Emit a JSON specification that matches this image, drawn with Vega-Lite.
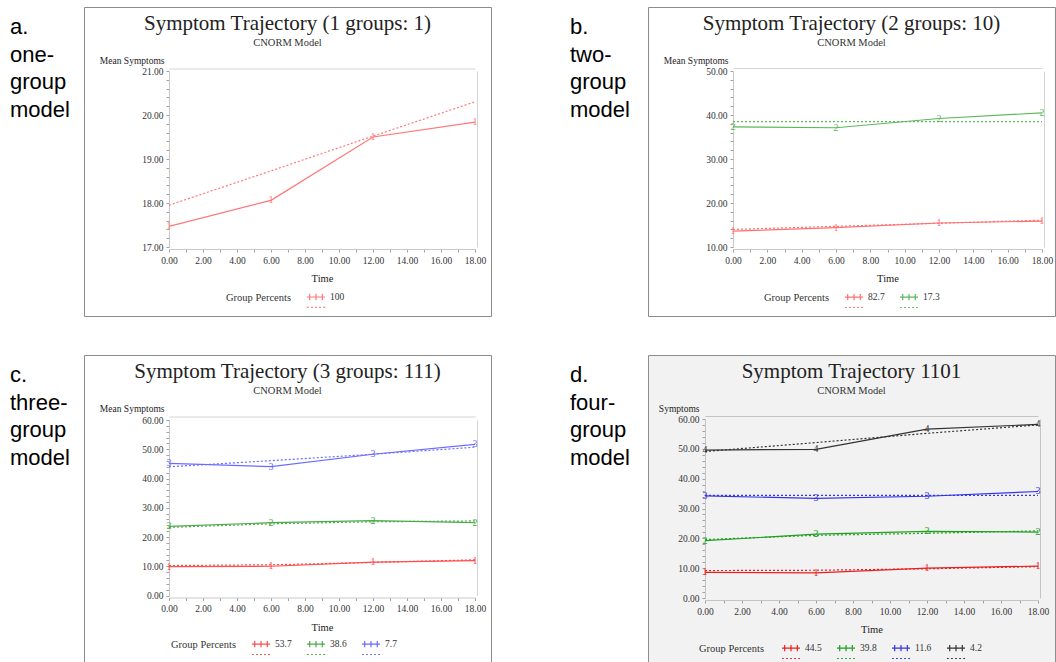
{
  "$schema": "https://vega.github.io/schema/vega-lite/v6.json",
  "padding": {"left": 10, "top": 6, "right": 0, "bottom": 0},
  "spacing": 37,
  "config": {
    "view": {"stroke": null},
    "axis": {"labelFont": "Liberation Serif", "labelFontSize": 9.5, "labelColor": "#333", "titleFont": "Liberation Serif", "titleFontSize": 10.5, "titleFontWeight": "normal", "titleColor": "#222", "tickColor": "#a0a0a0", "tickSize": 3, "domainColor": "#c8c8c8", "grid": false, "labelPadding": 3, "labelOverlap": false, "labelFlush": false, "labelBound": false},
    "title": {"font": "Liberation Serif", "fontSize": 21, "fontWeight": "normal", "color": "#222", "subtitleFont": "Liberation Serif", "subtitleFontSize": 10.5, "subtitleColor": "#333", "subtitlePadding": 4, "anchor": "middle", "frame": "group", "offset": -41},
    "legend": {"padding": 0, "labelFont": "Liberation Serif", "labelFontSize": 9.5, "labelColor": "#333", "titleFont": "Liberation Serif", "titleFontSize": 10.5, "titleFontWeight": "normal", "titleColor": "#333"}
  },
  "datasets": {
    "traj": [
      {"panel": "a", "grp": "1", "pct": "100", "time": 0, "obs": 17.47, "pred": 17.95},
      {"panel": "a", "grp": "1", "pct": "100", "time": 6, "obs": 18.06, "pred": 18.73},
      {"panel": "a", "grp": "1", "pct": "100", "time": 12, "obs": 19.5, "pred": 19.52},
      {"panel": "a", "grp": "1", "pct": "100", "time": 18, "obs": 19.84, "pred": 20.3},
      {"panel": "b", "grp": "1", "pct": "82.7", "time": 0, "obs": 13.6, "pred": 14.0},
      {"panel": "b", "grp": "1", "pct": "82.7", "time": 6, "obs": 14.4, "pred": 14.7},
      {"panel": "b", "grp": "1", "pct": "82.7", "time": 12, "obs": 15.45, "pred": 15.4},
      {"panel": "b", "grp": "1", "pct": "82.7", "time": 18, "obs": 15.9, "pred": 16.1},
      {"panel": "b", "grp": "2", "pct": "17.3", "time": 0, "obs": 37.3, "pred": 38.5},
      {"panel": "b", "grp": "2", "pct": "17.3", "time": 6, "obs": 37.1, "pred": 38.5},
      {"panel": "b", "grp": "2", "pct": "17.3", "time": 12, "obs": 39.2, "pred": 38.5},
      {"panel": "b", "grp": "2", "pct": "17.3", "time": 18, "obs": 40.5, "pred": 38.5},
      {"panel": "c", "grp": "1", "pct": "53.7", "time": 0, "obs": 9.9, "pred": 10.25},
      {"panel": "c", "grp": "1", "pct": "53.7", "time": 6, "obs": 10.0, "pred": 10.5},
      {"panel": "c", "grp": "1", "pct": "53.7", "time": 12, "obs": 11.4, "pred": 11.3},
      {"panel": "c", "grp": "1", "pct": "53.7", "time": 18, "obs": 11.95, "pred": 12.2},
      {"panel": "c", "grp": "2", "pct": "38.6", "time": 0, "obs": 23.6, "pred": 23.3},
      {"panel": "c", "grp": "2", "pct": "38.6", "time": 6, "obs": 24.9, "pred": 24.5},
      {"panel": "c", "grp": "2", "pct": "38.6", "time": 12, "obs": 25.6, "pred": 25.2},
      {"panel": "c", "grp": "2", "pct": "38.6", "time": 18, "obs": 24.9, "pred": 25.5},
      {"panel": "c", "grp": "3", "pct": "7.7", "time": 0, "obs": 45.2, "pred": 44.0},
      {"panel": "c", "grp": "3", "pct": "7.7", "time": 6, "obs": 44.05, "pred": 46.1},
      {"panel": "c", "grp": "3", "pct": "7.7", "time": 12, "obs": 48.3, "pred": 48.3},
      {"panel": "c", "grp": "3", "pct": "7.7", "time": 18, "obs": 51.7, "pred": 50.7},
      {"panel": "d", "grp": "1", "pct": "44.5", "time": 0, "obs": 8.6, "pred": 9.2},
      {"panel": "d", "grp": "1", "pct": "44.5", "time": 6, "obs": 8.4, "pred": 9.3},
      {"panel": "d", "grp": "1", "pct": "44.5", "time": 12, "obs": 10.0, "pred": 9.8},
      {"panel": "d", "grp": "1", "pct": "44.5", "time": 18, "obs": 10.7, "pred": 10.5},
      {"panel": "d", "grp": "2", "pct": "39.8", "time": 0, "obs": 19.2, "pred": 19.6},
      {"panel": "d", "grp": "2", "pct": "39.8", "time": 6, "obs": 21.4, "pred": 21.0},
      {"panel": "d", "grp": "2", "pct": "39.8", "time": 12, "obs": 22.3, "pred": 21.7},
      {"panel": "d", "grp": "2", "pct": "39.8", "time": 18, "obs": 22.1, "pred": 22.5},
      {"panel": "d", "grp": "3", "pct": "11.6", "time": 0, "obs": 34.2, "pred": 34.4},
      {"panel": "d", "grp": "3", "pct": "11.6", "time": 6, "obs": 33.4, "pred": 34.4},
      {"panel": "d", "grp": "3", "pct": "11.6", "time": 12, "obs": 34.1, "pred": 34.4},
      {"panel": "d", "grp": "3", "pct": "11.6", "time": 18, "obs": 35.7, "pred": 34.4},
      {"panel": "d", "grp": "4", "pct": "4.2", "time": 0, "obs": 49.6, "pred": 49.1},
      {"panel": "d", "grp": "4", "pct": "4.2", "time": 6, "obs": 49.8, "pred": 52.1},
      {"panel": "d", "grp": "4", "pct": "4.2", "time": 12, "obs": 56.6, "pred": 55.2},
      {"panel": "d", "grp": "4", "pct": "4.2", "time": 18, "obs": 58.2, "pred": 58.0}
    ],
    "labels": [
      {"panel": "a", "label": "a.\none-\ngroup\nmodel"},
      {"panel": "b", "label": "b.\ntwo-\ngroup\nmodel"},
      {"panel": "c", "label": "c.\nthree-\ngroup\nmodel"},
      {"panel": "d", "label": "d.\nfour-\ngroup\nmodel"}
    ]
  },
  "resolve": {"scale": {"color": "independent"}},
  "vconcat": [
    {
      "spacing": 78,
      "resolve": {"scale": {"color": "independent"}},
      "hconcat": [
        {
          "spacing": 0,
          "resolve": {"scale": {"color": "independent"}},
          "hconcat": [
            {
              "width": 73, "height": 309,
              "data": {"name": "labels"},
              "transform": [{"filter": "datum.panel == 'a'"}],
              "mark": {"type": "text", "align": "left", "baseline": "alphabetic", "font": "Liberation Sans", "fontSize": 22, "lineHeight": 27.5, "lineBreak": "\n", "dy": 27, "color": "#000"},
              "encoding": {
                "text": {"field": "label"},
                "x": {"datum": 0, "type": "quantitative", "scale": {"domain": [0, 1]}, "axis": null},
                "y": {"datum": 1, "type": "quantitative", "scale": {"domain": [0, 1]}, "axis": null}
              }
            },
            {
              "width": 407, "height": 309,
              "view": {"stroke": "#8c8c8c", "strokeWidth": 1, "fill": "white"},
              "title": {"text": "Symptom Trajectory (1 groups: 1)", "subtitle": "CNORM Model"},
              "data": {"name": "traj"},
              "transform": [{"filter": "datum.panel == 'a'"}],
              "resolve": {"axis": {"x": "independent", "y": "independent"}},
              "layer": [
                {
                  "mark": {"type": "line", "strokeDash": [2, 2], "strokeWidth": 1.2},
                  "encoding": {
                    "x": {"field": "time", "type": "quantitative", "scale": {"domain": [0, 18], "range": [85, 391], "nice": false}, "axis": {"orient": "top", "offset": -61.5, "labels": false, "ticks": false, "title": null, "domainColor": "#d4d4d4"}},
                    "y": {"field": "pred", "type": "quantitative", "scale": {"domain": [17, 21], "range": [240, 64], "nice": false, "zero": false}, "axis": {"orient": "right", "offset": -14, "labels": false, "ticks": false, "title": null, "domainColor": "#d4d4d4"}},
                    "color": {"field": "pct", "type": "nominal", "scale": {"domain": ["100"], "range": ["#ff7777"]}}
                  }
                },
                {
                  "mark": {"type": "line", "strokeWidth": 1.2},
                  "encoding": {
                    "x": {"field": "time", "type": "quantitative", "axis": {"orient": "bottom", "offset": -67, "tickCount": 18, "labelExpr": "datum.value % 2 == 0 ? format(datum.value, '.2f') : ''", "title": "Time", "titlePadding": 9}},
                    "y": {"field": "obs", "type": "quantitative", "axis": {"orient": "left", "offset": -85, "tickCount": 20, "labelExpr": "abs(datum.value - round(datum.value)) < 0.001 ? format(datum.value, '.2f') : ''", "title": "Mean Symptoms", "titleFontSize": 9.5, "titleAngle": 0, "titleAlign": "right", "titleBaseline": "middle", "titleX": -5, "titleY": 53}},
                    "color": {"field": "pct", "type": "nominal", "scale": {"domain": ["100"], "range": ["#ff7777"]}, "legend": {"title": "Group Percents", "orient": "none", "legendX": 142, "legendY": 280, "direction": "horizontal", "titleOrient": "left", "titleAnchor": "middle", "titleBaseline": "middle", "titlePadding": 14, "columnPadding": 12, "labelOffset": 4, "symbolSize": 324, "symbolStrokeWidth": 1.2, "symbolType": "M-1,0H1M-0.7,-0.35V0.35M0,-0.35V0.35M0.7,-0.35V0.35M-1,1.15H-0.8M-0.55,1.15H-0.35M-0.1,1.15H0.1M0.35,1.15H0.55M0.8,1.15H1"}}
                  }
                },
                {
                  "mark": {"type": "text", "font": "Liberation Serif", "fontSize": 10, "baseline": "middle"},
                  "encoding": {
                    "x": {"field": "time", "type": "quantitative", "axis": null},
                    "y": {"field": "obs", "type": "quantitative", "axis": null},
                    "text": {"field": "grp"},
                    "color": {"field": "pct", "type": "nominal", "scale": {"domain": ["100"], "range": ["#ff7777"]}}
                  }
                }
              ]
            }
          ]
        },
        {
          "spacing": 0,
          "resolve": {"scale": {"color": "independent"}},
          "hconcat": [
            {
              "width": 77, "height": 309,
              "data": {"name": "labels"},
              "transform": [{"filter": "datum.panel == 'b'"}],
              "mark": {"type": "text", "align": "left", "baseline": "alphabetic", "font": "Liberation Sans", "fontSize": 22, "lineHeight": 27.5, "lineBreak": "\n", "dy": 27, "color": "#000"},
              "encoding": {
                "text": {"field": "label"},
                "x": {"datum": 0, "type": "quantitative", "scale": {"domain": [0, 1]}, "axis": null},
                "y": {"datum": 1, "type": "quantitative", "scale": {"domain": [0, 1]}, "axis": null}
              }
            },
            {
              "width": 407, "height": 309,
              "view": {"stroke": "#8c8c8c", "strokeWidth": 1, "fill": "white"},
              "title": {"text": "Symptom Trajectory (2 groups: 10)", "subtitle": "CNORM Model"},
              "data": {"name": "traj"},
              "transform": [{"filter": "datum.panel == 'b'"}],
              "resolve": {"axis": {"x": "independent", "y": "independent"}},
              "layer": [
                {
                  "mark": {"type": "line", "strokeDash": [2, 2], "strokeWidth": 1.2},
                  "encoding": {
                    "x": {"field": "time", "type": "quantitative", "scale": {"domain": [0, 18], "range": [85, 394], "nice": false}, "axis": {"orient": "top", "offset": -61, "labels": false, "ticks": false, "title": null, "domainColor": "#d4d4d4"}},
                    "y": {"field": "pred", "type": "quantitative", "scale": {"domain": [10, 50], "range": [240, 64], "nice": false, "zero": false}, "axis": {"orient": "right", "offset": -11, "labels": false, "ticks": false, "title": null, "domainColor": "#d4d4d4"}},
                    "color": {"field": "pct", "type": "nominal", "scale": {"domain": ["82.7", "17.3"], "range": ["#ff7070", "#5cb85c"]}}
                  }
                },
                {
                  "mark": {"type": "line", "strokeWidth": 1.2},
                  "encoding": {
                    "x": {"field": "time", "type": "quantitative", "axis": {"orient": "bottom", "offset": -67, "tickCount": 18, "labelExpr": "datum.value % 2 == 0 ? format(datum.value, '.2f') : ''", "title": "Time", "titlePadding": 9}},
                    "y": {"field": "obs", "type": "quantitative", "axis": {"orient": "left", "offset": -85, "tickCount": 20, "labelExpr": "datum.value % 10 == 0 ? format(datum.value, '.2f') : ''", "title": "Mean Symptoms", "titleFontSize": 9.5, "titleAngle": 0, "titleAlign": "right", "titleBaseline": "middle", "titleX": -5, "titleY": 53}},
                    "color": {"field": "pct", "type": "nominal", "scale": {"domain": ["82.7", "17.3"], "range": ["#ff7070", "#5cb85c"]}, "legend": {"title": "Group Percents", "orient": "none", "legendX": 116, "legendY": 280, "direction": "horizontal", "titleOrient": "left", "titleAnchor": "middle", "titleBaseline": "middle", "titlePadding": 14, "columnPadding": 12, "labelOffset": 4, "symbolSize": 324, "symbolStrokeWidth": 1.2, "symbolType": "M-1,0H1M-0.7,-0.35V0.35M0,-0.35V0.35M0.7,-0.35V0.35M-1,1.15H-0.8M-0.55,1.15H-0.35M-0.1,1.15H0.1M0.35,1.15H0.55M0.8,1.15H1"}}
                  }
                },
                {
                  "mark": {"type": "text", "font": "Liberation Serif", "fontSize": 10, "baseline": "middle"},
                  "encoding": {
                    "x": {"field": "time", "type": "quantitative", "axis": null},
                    "y": {"field": "obs", "type": "quantitative", "axis": null},
                    "text": {"field": "grp"},
                    "color": {"field": "pct", "type": "nominal", "scale": {"domain": ["82.7", "17.3"], "range": ["#ff7070", "#5cb85c"]}}
                  }
                }
              ]
            }
          ]
        }
      ]
    },
    {
      "spacing": 78,
      "resolve": {"scale": {"color": "independent"}},
      "hconcat": [
        {
          "spacing": 0,
          "resolve": {"scale": {"color": "independent"}},
          "hconcat": [
            {
              "width": 73, "height": 308,
              "data": {"name": "labels"},
              "transform": [{"filter": "datum.panel == 'c'"}],
              "mark": {"type": "text", "align": "left", "baseline": "alphabetic", "font": "Liberation Sans", "fontSize": 22, "lineHeight": 27.5, "lineBreak": "\n", "dy": 27, "color": "#000"},
              "encoding": {
                "text": {"field": "label"},
                "x": {"datum": 0, "type": "quantitative", "scale": {"domain": [0, 1]}, "axis": null},
                "y": {"datum": 1, "type": "quantitative", "scale": {"domain": [0, 1]}, "axis": null}
              }
            },
            {
              "width": 407, "height": 308,
              "view": {"stroke": "#8c8c8c", "strokeWidth": 1, "fill": "white"},
              "title": {"text": "Symptom Trajectory (3 groups: 111)", "subtitle": "CNORM Model"},
              "data": {"name": "traj"},
              "transform": [{"filter": "datum.panel == 'c'"}],
              "resolve": {"axis": {"x": "independent", "y": "independent"}},
              "layer": [
                {
                  "mark": {"type": "line", "strokeDash": [2, 2], "strokeWidth": 1.2},
                  "encoding": {
                    "x": {"field": "time", "type": "quantitative", "scale": {"domain": [0, 18], "range": [85, 391], "nice": false}, "axis": {"orient": "top", "offset": -61.5, "labels": false, "ticks": false, "title": null, "domainColor": "#d4d4d4"}},
                    "y": {"field": "pred", "type": "quantitative", "scale": {"domain": [0, 60], "range": [240.5, 65], "nice": false, "zero": false}, "axis": {"orient": "right", "offset": -14, "labels": false, "ticks": false, "title": null, "domainColor": "#d4d4d4"}},
                    "color": {"field": "pct", "type": "nominal", "scale": {"domain": ["53.7", "38.6", "7.7"], "range": ["#ff4d4d", "#4caa4c", "#6b6bff"]}}
                  }
                },
                {
                  "mark": {"type": "line", "strokeWidth": 1.2},
                  "encoding": {
                    "x": {"field": "time", "type": "quantitative", "axis": {"orient": "bottom", "offset": -65.5, "tickCount": 18, "labelExpr": "datum.value % 2 == 0 ? format(datum.value, '.2f') : ''", "title": "Time", "titlePadding": 9}},
                    "y": {"field": "obs", "type": "quantitative", "axis": {"orient": "left", "offset": -85, "tickCount": 30, "labelExpr": "datum.value % 10 == 0 ? format(datum.value, '.2f') : ''", "title": "Mean Symptoms", "titleFontSize": 9.5, "titleAngle": 0, "titleAlign": "right", "titleBaseline": "middle", "titleX": -5, "titleY": 53}},
                    "color": {"field": "pct", "type": "nominal", "scale": {"domain": ["53.7", "38.6", "7.7"], "range": ["#ff4d4d", "#4caa4c", "#6b6bff"]}, "legend": {"title": "Group Percents", "orient": "none", "legendX": 87, "legendY": 279, "direction": "horizontal", "titleOrient": "left", "titleAnchor": "middle", "titleBaseline": "middle", "titlePadding": 14, "columnPadding": 12, "labelOffset": 4, "symbolSize": 324, "symbolStrokeWidth": 1.2, "symbolType": "M-1,0H1M-0.7,-0.35V0.35M0,-0.35V0.35M0.7,-0.35V0.35M-1,1.15H-0.8M-0.55,1.15H-0.35M-0.1,1.15H0.1M0.35,1.15H0.55M0.8,1.15H1"}}
                  }
                },
                {
                  "mark": {"type": "text", "font": "Liberation Serif", "fontSize": 10, "baseline": "middle"},
                  "encoding": {
                    "x": {"field": "time", "type": "quantitative", "axis": null},
                    "y": {"field": "obs", "type": "quantitative", "axis": null},
                    "text": {"field": "grp"},
                    "color": {"field": "pct", "type": "nominal", "scale": {"domain": ["53.7", "38.6", "7.7"], "range": ["#ff4d4d", "#4caa4c", "#6b6bff"]}}
                  }
                }
              ]
            }
          ]
        },
        {
          "spacing": 0,
          "resolve": {"scale": {"color": "independent"}},
          "hconcat": [
            {
              "width": 77, "height": 308,
              "data": {"name": "labels"},
              "transform": [{"filter": "datum.panel == 'd'"}],
              "mark": {"type": "text", "align": "left", "baseline": "alphabetic", "font": "Liberation Sans", "fontSize": 22, "lineHeight": 27.5, "lineBreak": "\n", "dy": 27, "color": "#000"},
              "encoding": {
                "text": {"field": "label"},
                "x": {"datum": 0, "type": "quantitative", "scale": {"domain": [0, 1]}, "axis": null},
                "y": {"datum": 1, "type": "quantitative", "scale": {"domain": [0, 1]}, "axis": null}
              }
            },
            {
              "width": 407, "height": 308,
              "view": {"stroke": "#8c8c8c", "strokeWidth": 1, "fill": "#f2f2f2"},
              "title": {"text": "Symptom Trajectory 1101", "subtitle": "CNORM Model", "fontSize": 21},
              "data": {"name": "traj"},
              "transform": [{"filter": "datum.panel == 'd'"}],
              "resolve": {"axis": {"x": "independent", "y": "independent"}},
              "layer": [
                {
                  "mark": {"type": "line", "strokeDash": [2, 2], "strokeWidth": 1.2},
                  "encoding": {
                    "x": {"field": "time", "type": "quantitative", "scale": {"domain": [0, 18], "range": [57, 390], "nice": false}, "axis": {"orient": "top", "offset": -61, "labels": false, "ticks": false, "title": null, "domainColor": "#c4c4c4"}},
                    "y": {"field": "pred", "type": "quantitative", "scale": {"domain": [0, 60], "range": [243, 64], "nice": false, "zero": false}, "axis": {"orient": "right", "offset": -15, "labels": false, "ticks": false, "title": null, "domainColor": "#c4c4c4"}},
                    "color": {"field": "pct", "type": "nominal", "scale": {"domain": ["44.5", "39.8", "11.6", "4.2"], "range": ["#e82020", "#20a020", "#3535e6", "#333333"]}}
                  }
                },
                {
                  "mark": {"type": "line", "strokeWidth": 1.2},
                  "encoding": {
                    "x": {"field": "time", "type": "quantitative", "axis": {"orient": "bottom", "offset": -63, "tickCount": 18, "labelExpr": "datum.value % 2 == 0 ? format(datum.value, '.2f') : ''", "title": "Time", "titlePadding": 9, "domainColor": "#c4c4c4"}},
                    "y": {"field": "obs", "type": "quantitative", "axis": {"orient": "left", "offset": -57, "tickCount": 30, "labelExpr": "datum.value % 10 == 0 ? format(datum.value, '.2f') : ''", "title": "Symptoms", "titleFontSize": 9.5, "titleAngle": 0, "titleAlign": "right", "titleBaseline": "middle", "titleX": -6, "titleY": 53, "domainColor": "#c4c4c4"}},
                    "color": {"field": "pct", "type": "nominal", "scale": {"domain": ["44.5", "39.8", "11.6", "4.2"], "range": ["#e82020", "#20a020", "#3535e6", "#333333"]}, "legend": {"title": "Group Percents", "orient": "none", "legendX": 51, "legendY": 283, "direction": "horizontal", "titleOrient": "left", "titleAnchor": "middle", "titleBaseline": "middle", "titlePadding": 16, "columnPadding": 12, "labelOffset": 4, "symbolSize": 324, "symbolStrokeWidth": 1.2, "symbolType": "M-1,0H1M-0.7,-0.35V0.35M0,-0.35V0.35M0.7,-0.35V0.35M-1,1.15H-0.8M-0.55,1.15H-0.35M-0.1,1.15H0.1M0.35,1.15H0.55M0.8,1.15H1"}}
                  }
                },
                {
                  "mark": {"type": "text", "font": "Liberation Serif", "fontSize": 10, "baseline": "middle"},
                  "encoding": {
                    "x": {"field": "time", "type": "quantitative", "axis": null},
                    "y": {"field": "obs", "type": "quantitative", "axis": null},
                    "text": {"field": "grp"},
                    "color": {"field": "pct", "type": "nominal", "scale": {"domain": ["44.5", "39.8", "11.6", "4.2"], "range": ["#e82020", "#20a020", "#3535e6", "#333333"]}}
                  }
                }
              ]
            }
          ]
        }
      ]
    }
  ]
}
